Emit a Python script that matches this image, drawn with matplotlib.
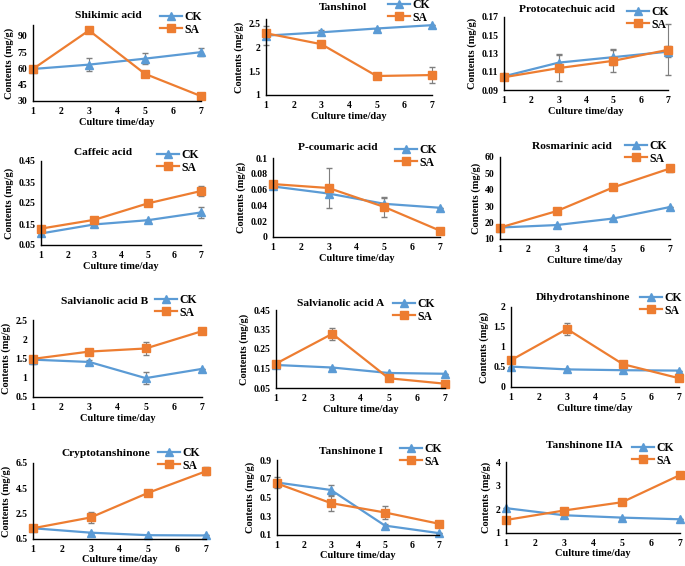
import numpy as np
import matplotlib
matplotlib.use('Agg')
from matplotlib import pyplot as plt

plt.rcParams['font.family'] = ['Liberation Serif', 'DejaVu Serif']
plt.rcParams['font.weight'] = 'bold'
plt.rcParams['axes.labelweight'] = 'bold'

days = [1, 3, 5, 7]
x_ticks = [1, 2, 3, 4, 5, 6, 7]

titles = ['Shikimic acid', 'Tanshinol', 'Protocatechuic acid',
          'Caffeic acid', 'P-coumaric acid', 'Rosmarinic acid',
          'Salvianolic acid B', 'Salvianolic acid A', 'Dihydrotanshinone',
          'Cryptotanshinone', 'Tanshinone I', 'Tanshinone IIA']

ck_shikimic = [59.5, 63.5, 69, 75]
sa_shikimic = [59.5, 95, 55, 34.5]
ck_err_shikimic = [0, 6, 5, 4]
sa_err_shikimic = [0, 0, 0, 0]

ck_tanshinol = [2.25, 2.32, 2.4, 2.47]
sa_tanshinol = [2.3, 2.07, 1.4, 1.42]
ck_err_tanshinol = [0.2, 0.05, 0, 0]
sa_err_tanshinol = [0, 0, 0, 0.17]

ck_protocat = [0.105, 0.120, 0.126, 0.132]
sa_protocat = [0.104, 0.114, 0.122, 0.134]
ck_err_protocat = [0.002, 0.009, 0.009, 0.006]
sa_err_protocat = [0, 0.014, 0.012, 0.028]

ck_caffeic = [0.105, 0.148, 0.168, 0.205]
sa_caffeic = [0.128, 0.17, 0.248, 0.307]
ck_err_caffeic = [0, 0, 0, 0.025]
sa_err_caffeic = [0, 0, 0, 0.025]

ck_coumaric = [0.064, 0.055, 0.042, 0.037]
sa_coumaric = [0.067, 0.062, 0.038, 0.008]
ck_err_coumaric = [0, 0, 0.008, 0]
sa_err_coumaric = [0, 0.025, 0.013, 0]

ck_rosmarinic = [17, 18.5, 22.5, 29.5]
sa_rosmarinic = [17, 27, 41.5, 53]
ck_err_rosmarinic = [0, 0, 0, 0]
sa_err_rosmarinic = [0, 0, 0, 2]

ck_salb = [1.47, 1.41, 0.99, 1.23]
sa_salb = [1.49, 1.68, 1.76, 2.21]
ck_err_salb = [0.1, 0.05, 0.15, 0]
sa_err_salb = [0, 0.06, 0.17, 0.06]

ck_sala = [0.168, 0.155, 0.127, 0.123]
sa_sala = [0.175, 0.328, 0.1, 0.072]
ck_err_sala = [0, 0, 0, 0]
sa_err_sala = [0, 0.03, 0, 0]

ck_dihydro = [0.51, 0.44, 0.42, 0.41]
sa_dihydro = [0.67, 1.45, 0.57, 0.22]
ck_err_dihydro = [0, 0, 0, 0]
sa_err_dihydro = [0, 0.15, 0, 0]

ck_crypto = [1.35, 1.0, 0.8, 0.78]
sa_crypto = [1.35, 2.2, 4.15, 5.85]
ck_err_crypto = [0, 0, 0, 0]
sa_err_crypto = [0, 0.45, 0.2, 0.3]

ck_tan1 = [0.66, 0.58, 0.2, 0.12]
sa_tan1 = [0.65, 0.44, 0.34, 0.22]
ck_err_tan1 = [0.06, 0.05, 0.02, 0]
sa_err_tan1 = [0, 0.08, 0.07, 0]

ck_tan2a = [2.05, 1.75, 1.65, 1.58]
sa_tan2a = [1.55, 1.95, 2.3, 3.45]
ck_err_tan2a = [0, 0, 0, 0]
sa_err_tan2a = [0, 0, 0, 0]

ck_values = [ck_shikimic, ck_tanshinol, ck_protocat, ck_caffeic, ck_coumaric, ck_rosmarinic,
             ck_salb, ck_sala, ck_dihydro, ck_crypto, ck_tan1, ck_tan2a]
sa_values = [sa_shikimic, sa_tanshinol, sa_protocat, sa_caffeic, sa_coumaric, sa_rosmarinic,
             sa_salb, sa_sala, sa_dihydro, sa_crypto, sa_tan1, sa_tan2a]
ck_errors = [ck_err_shikimic, ck_err_tanshinol, ck_err_protocat, ck_err_caffeic, ck_err_coumaric,
             ck_err_rosmarinic, ck_err_salb, ck_err_sala, ck_err_dihydro, ck_err_crypto,
             ck_err_tan1, ck_err_tan2a]
sa_errors = [sa_err_shikimic, sa_err_tanshinol, sa_err_protocat, sa_err_caffeic, sa_err_coumaric,
             sa_err_rosmarinic, sa_err_salb, sa_err_sala, sa_err_dihydro, sa_err_crypto,
             sa_err_tan1, sa_err_tan2a]

y_ticks = [[30, 45, 60, 75, 90], [1, 1.5, 2, 2.5], [0.09, 0.11, 0.13, 0.15, 0.17],
           [0.05, 0.15, 0.25, 0.35, 0.45], [0, 0.02, 0.04, 0.06, 0.08, 0.1], [10, 20, 30, 40, 50, 60],
           [0.5, 1, 1.5, 2, 2.5], [0.05, 0.15, 0.25, 0.35, 0.45], [0, 0.5, 1, 1.5, 2],
           [0.5, 2.5, 4.5, 6.5], [0.1, 0.3, 0.5, 0.7, 0.9], [1, 2, 3, 4]]
y_tick_labels = [['30', '45', '60', '75', '90'], ['1', '1.5', '2', '2.5'],
                 ['0.09', '0.11', '0.13', '0.15', '0.17'], ['0.05', '0.15', '0.25', '0.35', '0.45'],
                 ['0', '0.02', '0.04', '0.06', '0.08', '0.1'], ['10', '20', '30', '40', '50', '60'],
                 ['0.5', '1', '1.5', '2', '2.5'], ['0.05', '0.15', '0.25', '0.35', '0.45'],
                 ['0', '0.5', '1', '1.5', '2'], ['0.5', '2.5', '4.5', '6.5'],
                 ['0.1', '0.3', '0.5', '0.7', '0.9'], ['1', '2', '3', '4']]
y_top = [100, 2.6, 0.17, 0.45, 0.1, 60, 2.5, 0.45, 2, 6.5, 0.9, 4]

# layout in pixels: axes box (left, right, top, bottom), title (cx, cy), legend (x, y_ck)
W, H = 685, 566
boxes = [(33, 201, 25, 101), (266, 432, 19, 95), (504, 668, 17, 90),
         (41, 201, 161, 245), (273, 440, 158, 237), (500, 670, 157, 239),
         (33, 202, 320, 397), (276, 445, 310, 388), (511, 679, 307, 387),
         (33, 206, 463, 539), (277, 439, 460, 535), (506, 680, 462, 533)]
title_pos = [(108, 16), (343, 7), (567, 9), (103, 153), (338, 147), (572, 146),
             (105, 302), (341, 303), (583, 297), (106, 453), (351, 452), (584, 445)]
legend_pos = [(160, 18), (388, 6), (627, 13), (157, 156), (395, 151), (625, 147),
              (155, 301), (393, 305), (640, 299), (158, 454), (400, 450), (632, 449)]

ck_color = '#5B9BD5'
sa_color = '#ED7D31'

fig = plt.figure(figsize=(W / 100, H / 100), dpi=100)

for i in range(12):
    l, r, t, b = boxes[i]
    ax = fig.add_axes([l / W, 1 - b / H, (r - l) / W, (b - t) / H])
    ax.errorbar(days, ck_values[i], yerr=ck_errors[i], fmt='none', ecolor='#7f7f7f',
                elinewidth=0.8, capsize=2, clip_on=False)
    ax.errorbar(days, sa_values[i], yerr=sa_errors[i], fmt='none', ecolor='#7f7f7f',
                elinewidth=0.8, capsize=2, clip_on=False)
    ax.plot(days, ck_values[i], color=ck_color, marker='^', markersize=5.5,
            linewidth=1.6, label='CK', clip_on=False)
    ax.plot(days, sa_values[i], color=sa_color, marker='s', markersize=6,
            linewidth=1.6, label='SA', clip_on=False)
    ax.set_xlim(1, 7)
    ax.set_ylim(y_ticks[i][0], y_top[i])
    ax.set_xticks(x_ticks)
    ax.set_yticks(y_ticks[i])
    ax.set_yticklabels(y_tick_labels[i])
    ax.tick_params(length=0, labelsize=7, pad=4)
    for lab in ax.get_xticklabels() + ax.get_yticklabels():
        lab.set_fontweight('bold')
    ax.spines['top'].set_visible(False)
    ax.spines['right'].set_visible(False)
    ax.spines['left'].set_color('black')
    ax.spines['bottom'].set_color('black')
    ax.spines['left'].set_linewidth(1.0)
    ax.spines['bottom'].set_linewidth(1.0)
    ax.set_xlabel('Culture time/day', fontsize=7.5, fontweight='bold', labelpad=1 if i >= 9 else 2)
    ax.set_ylabel('Contents (mg/g)', fontsize=7.5, fontweight='bold', labelpad=3)
    fig.text(title_pos[i][0] / W, 1 - title_pos[i][1] / H, titles[i], ha='center', va='center',
             fontsize=8.2, fontweight='bold')
    lx, ly = legend_pos[i]
    ax.legend(loc='upper left', bbox_to_anchor=(lx / W, 1 - (ly - 7) / H),
              bbox_transform=fig.transFigure, frameon=False, fontsize=8.5, handlelength=1.9,
              handletextpad=0.2, labelspacing=0.05, borderpad=0, borderaxespad=0)

plt.savefig('out.png', dpi=100)
